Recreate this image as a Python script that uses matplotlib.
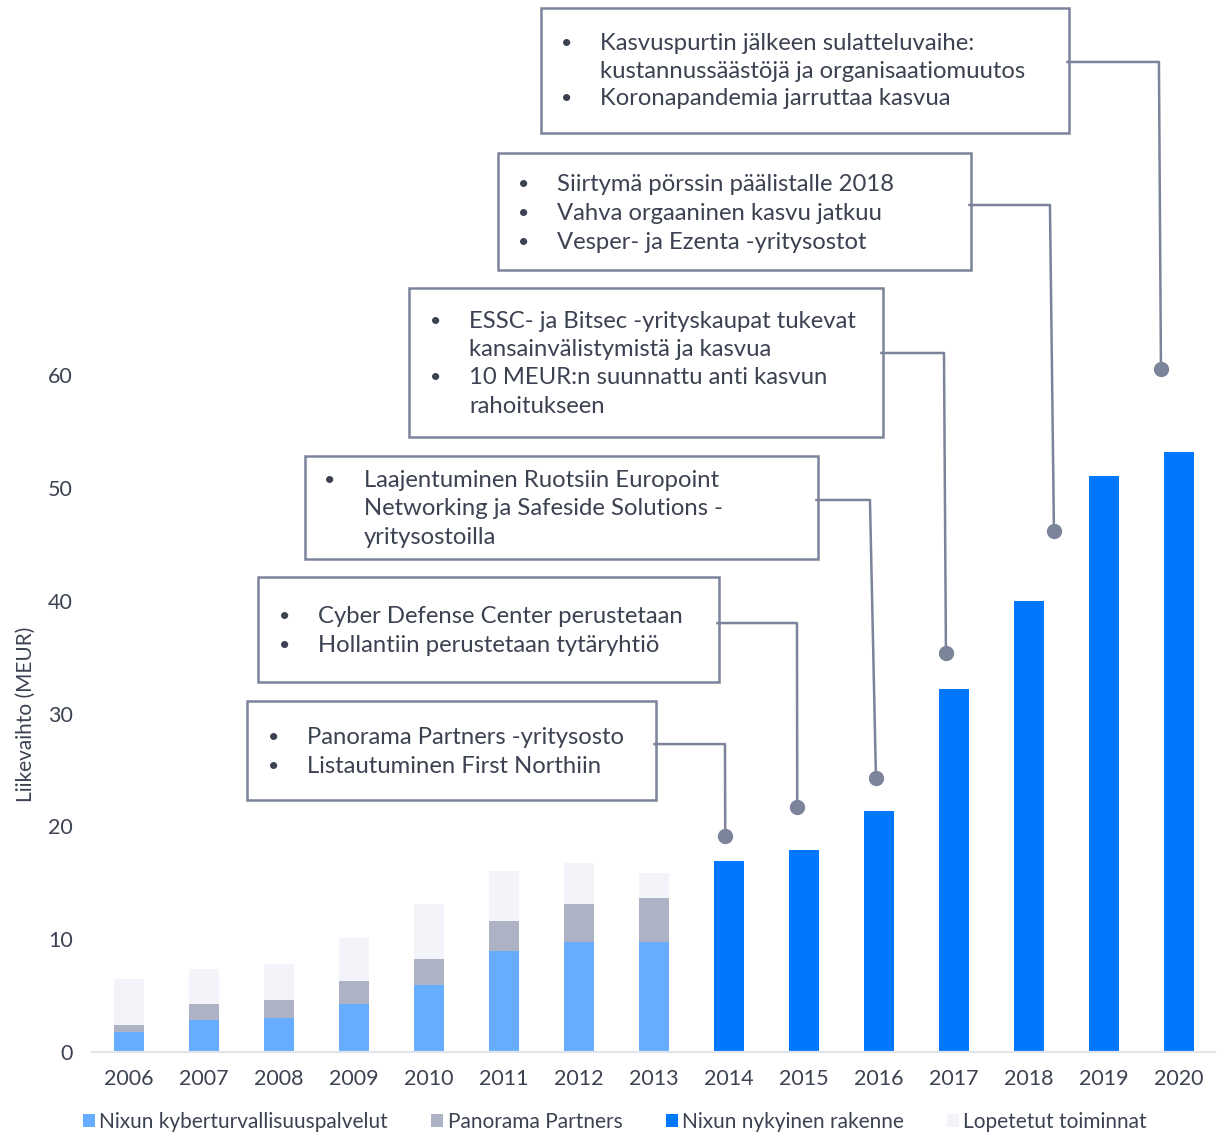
import matplotlib
matplotlib.use("Agg")
import matplotlib.pyplot as plt
from matplotlib.patches import Rectangle
import numpy as np

plt.rcParams["font.family"] = ["Lato", "DejaVu Sans"]

# --- data -----
years = ["2006", "2007", "2008", "2009", "2010", "2011", "2012", "2013",
         "2014", "2015", "2016", "2017", "2018", "2019", "2020"]
kyber = [1.8, 2.8, 3.0, 4.25, 5.9, 8.95, 9.75, 9.75, 0, 0, 0, 0, 0, 0, 0]
panorama = [0.6, 1.5, 1.6, 2.05, 2.35, 2.7, 3.35, 3.9, 0, 0, 0, 0, 0, 0, 0]
lopetetut = [4.05, 3.1, 3.2, 3.8, 4.85, 4.4, 3.7, 2.2, 0, 0, 0, 0, 0, 0, 0]
nykyinen = [0, 0, 0, 0, 0, 0, 0, 0, 16.9, 17.95, 21.4, 32.2, 40.0, 51.1, 53.2]

legend_labels = ["Nixun kyberturvallisuuspalvelut", "Panorama Partners",
                 "Nixun nykyinen rakenne", "Lopetetut toiminnat"]

# annotation boxes (text lines, bullet flag per line)
notes = [
    [("Panorama Partners -yritysosto", True), ("Listautuminen First Northiin", True)],
    [("Cyber Defense Center perustetaan", True), ("Hollantiin perustetaan tytäryhtiö", True)],
    [("Laajentuminen Ruotsiin Europoint", True), ("Networking ja Safeside Solutions -", False),
     ("yritysostoilla", False)],
    [("ESSC- ja Bitsec -yrityskaupat tukevat", True), ("kansainvälistymistä ja kasvua", False),
     ("10 MEUR:n suunnattu anti kasvun", True), ("rahoitukseen", False)],
    [("Siirtymä pörssin päälistalle 2018", True), ("Vahva orgaaninen kasvu jatkuu", True),
     ("Vesper- ja Ezenta -yritysostot", True)],
    [("Kasvuspurtin jälkeen sulatteluvaihe:", True), ("kustannussäästöjä ja organisaatiomuutos", False),
     ("Koronapandemia jarruttaa kasvua", True)],
]
# box layout: x0, x1, y_top, y_bottom, bullet x, text x, first line y, line step,
#             connector y, elbow x, dot x, dot y
layout = [
    (1.573, 7.027, 31.12, 22.34, 1.93, 2.373, 27.9, 2.57, 27.30, 7.947, 7.95, 19.15),
    (1.72, 7.867, 42.11, 32.80, 2.08, 2.52, 38.65, 2.57, 38.03, 8.907, 8.91, 21.72),
    (2.347, 9.187, 52.84, 43.71, 2.68, 3.133, 50.71, 2.54, 48.94, 9.88, 9.96, 24.29),
    (3.733, 10.053, 67.73, 54.52, 4.093, 4.533, 64.80, 2.51, 61.97, 10.867, 10.893, 35.37),
    (4.92, 11.227, 79.70, 69.33, 5.267, 5.707, 76.95, 2.57, 75.09, 12.28, 12.333, 46.19),
    (5.493, 12.533, 92.55, 81.47, 5.84, 6.28, 89.45, 2.48, 87.77, 13.733, 13.76, 60.55),
]

c_kyber = "#66adff"
c_pano = "#adb2c5"
c_nyk = "#0077ff"
c_lop = "#f3f4f9"
c_line = "#7b849a"
c_text = "#3c4251"

fig = plt.figure(figsize=(12.25, 11.39), dpi=100)
ax = fig.add_axes([0.0751, 0.07638, 0.9167, 0.921])

x = np.arange(len(years))
w = 0.4
kyber = np.array(kyber)
panorama = np.array(panorama)
b1 = ax.bar(x, kyber, w, color=c_kyber, label=legend_labels[0])
b2 = ax.bar(x, panorama, w, bottom=kyber, color=c_pano, label=legend_labels[1])
b3 = ax.bar(x, nykyinen, w, color=c_nyk, label=legend_labels[2])
b4 = ax.bar(x, lopetetut, w, bottom=kyber + panorama, color=c_lop, label=legend_labels[3])

ax.set_xlim(-0.493, 14.48)
ax.set_ylim(0, 93)
ax.set_yticks([0, 10, 20, 30, 40, 50, 60])
ax.set_xticks(x)
ax.set_xticklabels(years)
ax.tick_params(axis="both", length=0, labelsize=15.5, labelcolor=c_text)
ax.tick_params(axis="y", pad=14)
ax.tick_params(axis="x", pad=12)
for s in ["top", "right", "left"]:
    ax.spines[s].set_visible(False)
ax.spines["bottom"].set_color("#e1e4ea")
ax.spines["bottom"].set_linewidth(1.6)

fig.text(0.0212, 0.373, "Liikevaihto (MEUR)", rotation=90, ha="center", va="center",
         fontsize=15, color=c_text)

#annotation boxes with connectors
for lines, (x0, x1, yt, yb, bx, tx, ly, step, cy, ex, dx, dy) in zip(notes, layout):
    ax.add_patch(Rectangle((x0, yb), x1 - x0, yt - yb, fill=False, edgecolor=c_line,
                           linewidth=1.8, clip_on=False, zorder=3))
    for i, (txt, bullet) in enumerate(lines):
        yy = ly - i * step
        if bullet:
            ax.text(bx, yy, "•", ha="center", va="center", fontsize=14, color=c_text)
        ax.text(tx, yy, txt, ha="left", va="center", fontsize=17.2, color=c_text)
    ax.plot([x1 - 0.02, ex, dx], [cy, cy, dy], color=c_line, linewidth=1.8,
            clip_on=False, zorder=3)
    ax.plot(dx, dy, "o", color=c_line, markersize=10, clip_on=False, zorder=4)

fig.legend(handles=[b1, b2, b3, b4], labels=legend_labels, loc="lower left",
           bbox_to_anchor=(0.0525, -0.0105), ncol=4, frameon=False, fontsize=15,
           handlelength=0.58, handleheight=0.58, handletextpad=0.2, columnspacing=2.08,
           labelcolor=c_text)

fig.savefig("out.png", dpi=100)
